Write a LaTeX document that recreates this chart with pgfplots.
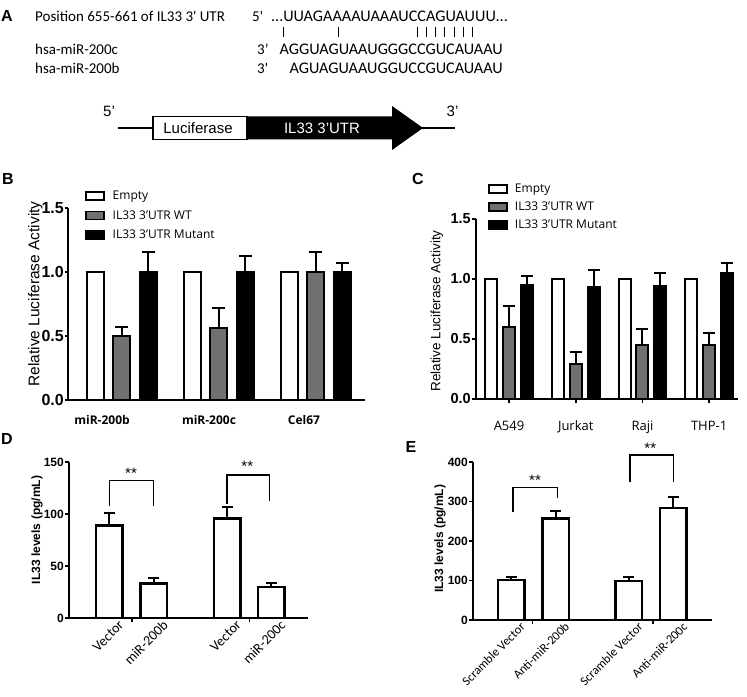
\documentclass[border=0pt]{standalone}
\usepackage{pgfplots}
\pgfplotsset{compat=1.18}
\usepackage{fontspec}
\setmainfont{Liberation Sans}
\newfontfamily\calib{Carlito}
\newfontfamily\osans{Open Sans}
\newcommand{\fsz}[1]{\fontsize{#1bp}{#1bp}\selectfont}
\definecolor{bargray}{gray}{0.44}

\pgfplotsset{
  prism/.style={
    scale only axis, axis lines*=left, axis line style={line width=2bp},
    tick align=outside, major tick length=3.5bp, tick style={line width=1.6bp,black},
    /pgf/number format/assume math mode=true,
    ybar, clip=false, anchor=south west,
  },
  eb/.style={error bars/.cd, y dir=plus, y explicit,
    error bar style={line width=2bp,black},
    error mark options={rotate=90,line width=2bp,black,mark size=#1}},
  boxleg/.style={legend image code/.code={\draw[fill=#1, draw=black, line width=1.6bp] (0bp,-3.5bp) rectangle (18bp,4.5bp);}},
}

\begin{document}
\begin{tikzpicture}[x=1bp,y=1bp]
\useasboundingbox (0,0) rectangle (747,697);

% ---------------- Panel A ----------------
\node[font=\bfseries\fsz{16}] at (7,681) {A};
\node[font=\calib\fsz{15}, anchor=base west, inner sep=0] at (35,675.3) {Position 655-661 of IL33 3' UTR};
\node[font=\calib\fsz{15}, anchor=base west, inner sep=0] at (252,675.3) {5'};
\node[font=\calib\fsz{16.2}, anchor=base east, inner sep=0] at (508,675.3) {...UUAGAAAAUAAAUCCAGUAUUU...};
\foreach \xx in {283,338,417,426,435,444,454,463,472}{\draw[line width=1bp] (\xx,670.3)--(\xx,659.7);}
\node[font=\calib\fsz{15}, anchor=base west, inner sep=0] at (35,642) {hsa-miR-200c};
\node[font=\calib\fsz{15}, anchor=base west, inner sep=0] at (257,642) {3’};
\node[font=\calib\fsz{16.2}, anchor=base east, inner sep=0] at (503,642) {AGGUAGUAAUGGGCCGUCAUAAU};
\node[font=\calib\fsz{15}, anchor=base west, inner sep=0] at (35,623.7) {hsa-miR-200b};
\node[font=\calib\fsz{15}, anchor=base west, inner sep=0] at (257,623.7) {3'};
\node[font=\calib\fsz{16.2}, anchor=base east, inner sep=0] at (503,623.7) {AGUAGUAAUGGUCCGUCAUAAU};
% construct diagram
\draw[line width=1.5bp] (118,569)--(455,569);
\fill[black] (247,557.5)--(392,557.5)--(392,547)--(423,569)--(392,591)--(392,580.5)--(247,580.5)--cycle;
\draw[fill=white, line width=1.2bp] (153,557.5) rectangle (247,580.5);
\node[font=\fsz{15}] at (198,569) {Luciferase};
\node[font=\fsz{15}, text=white] at (322,569) {IL33 3'UTR};
\node[font=\fsz{15}] at (109,586) {5'};
\node[font=\fsz{15}] at (452.5,586) {3'};

% ---------------- Panel B ----------------
\node[font=\bfseries\fsz{16}] at (8,518) {B};
\begin{axis}[prism, at={(68bp,297bp)},
  width=297bp, height=192bp,
  xmin=-0.557, xmax=2.508, ymin=0, ymax=1.5,
  ytick={0,0.5,1,1.5},
  yticklabel style={font=\bfseries\fsz{16}, inner sep=0.5bp, /pgf/number format/fixed, /pgf/number format/fixed zerofill, /pgf/number format/precision=1},
  xtick={-0.206,0.898,1.878}, xticklabels={miR-200b,miR-200c,Cel67},
  xtick style={draw=none},
  xticklabel style={font=\osans\bfseries\fsz{12}, yshift=-8bp},
  ylabel={Relative Luciferase Activity},
  ylabel style={at={(axis description cs:-0.11,0.552)}, anchor=center, font=\fsz{15.5}},
  legend style={at={(0.047,1.102)}, anchor=north west, draw=none, fill=none,
    font=\osans\fsz{12}, nodes={inner sep=0pt, text height=9bp, text depth=3bp},
    row sep=7.5bp, /tikz/every odd column/.append style={column sep=8bp}},
  legend cell align=left,
]
\addplot[fill=white, draw=black, line width=2bp, bar width=17bp, bar shift=-26.5bp, boxleg=white]
  coordinates {(0,1) (1,1) (2,1)};
\addplot[fill=bargray, draw=black, line width=2bp, bar width=17bp, bar shift=0bp, boxleg=bargray, eb=6.5bp]
  coordinates {(0,0.50) +- (0,0.072) (1,0.56) +- (0,0.16) (2,1.00) +- (0,0.156)};
\addplot[fill=black, draw=black, line width=2bp, bar width=17bp, bar shift=26.5bp, boxleg=black, eb=6.5bp]
  coordinates {(0,1.00) +- (0,0.156) (1,1.00) +- (0,0.122) (2,1.00) +- (0,0.074)};
\legend{Empty, IL33 3’UTR WT, IL33 3’UTR Mutant}
\end{axis}

% ---------------- Panel C ----------------
\node[font=\bfseries\fsz{16}] at (418,518) {C};
\begin{axis}[prism, at={(476bp,298bp)},
  width=262bp, height=180bp,
  xmin=-0.495, xmax=3.433, ymin=0, ymax=1.5,
  ytick={0,0.5,1,1.5},
  yticklabel style={font=\bfseries\fsz{14.5}, inner sep=0.5bp, /pgf/number format/fixed, /pgf/number format/fixed zerofill, /pgf/number format/precision=1},
  xtick={0,1,2,3}, xticklabels={A549,Jurkat,Raji,THP-1},
  major tick length=4.5bp,
  xticklabel style={font=\osans\fsz{13}, yshift=-14bp},
  ylabel={Relative Luciferase Activity},
  ylabel style={at={(axis description cs:-0.149,0.489)}, anchor=center, font=\fsz{13.5}},
  legend style={at={(0.035,1.21)}, anchor=north west, draw=none, fill=none,
    font=\osans\fsz{12}, nodes={inner sep=0pt, text height=9bp, text depth=3bp},
    row sep=6bp, /tikz/every odd column/.append style={column sep=7bp}},
  legend cell align=left,
]
\addplot[fill=white, draw=black, line width=2bp, bar width=12bp, bar shift=-17.8bp, boxleg=white]
  coordinates {(0,1) (1,1) (2,1) (3,1)};
\addplot[fill=bargray, draw=black, line width=2bp, bar width=12bp, bar shift=0bp, boxleg=bargray, eb=6bp]
  coordinates {(0,0.60) +- (0,0.175) (1,0.29) +- (0,0.10) (2,0.45) +- (0,0.13) (3,0.45) +- (0,0.10)};
\addplot[fill=black, draw=black, line width=2bp, bar width=12bp, bar shift=17.8bp, boxleg=black, eb=6bp]
  coordinates {(0,0.95) +- (0,0.075) (1,0.933) +- (0,0.142) (2,0.94) +- (0,0.11) (3,1.05) +- (0,0.08)};
\legend{Empty, IL33 3’UTR WT, IL33 3’UTR Mutant}
\end{axis}

% ---------------- Panel D ----------------
\node[font=\bfseries\fsz{16}] at (7,258) {D};
\begin{axis}[prism, at={(69bp,79bp)},
  width=239bp, height=156bp,
  xmin=0.08, xmax=5.51, ymin=0, ymax=150,
  ytick={0,50,100,150},
  major tick length=4bp,
  yticklabel style={font=\bfseries\fsz{12}, inner sep=1bp},
  xtick={1.505,4.18}, xticklabels={,},
  extra x ticks={1,2,3.67,4.67},
  extra x tick labels={Vector,miR-200b,Vector,miR-200c},
  extra x tick style={major tick length=0pt},
  xticklabel style={rotate=45, anchor=north east, font=\calib\fsz{14}, inner sep=1bp, xshift=6bp, yshift=-6bp},
  ylabel={IL33 levels (pg/mL)},
  ylabel style={at={(axis description cs:-0.134,0.564)}, anchor=center, font=\bfseries\fsz{12}},
]
\addplot[fill=white, draw=black, line width=2.5bp, bar width=26.5bp, bar shift=0bp, eb=5.5bp]
  coordinates {(1,89) +- (0,12) (2,33) +- (0,5) (3.67,95.5) +- (0,11.5) (4.67,30) +- (0,4)};
\draw[line width=1.5bp] (axis cs:1,107.7)--(axis cs:1,132)--(axis cs:2,132)--(axis cs:2,107.7);
\draw[line width=1.5bp] (axis cs:3.664,110)--(axis cs:3.664,137.5)--(axis cs:4.63,137.5)--(axis cs:4.63,112.5);
\node[font=\fsz{15}] at (axis cs:1.49,139) {**};
\node[font=\fsz{15}] at (axis cs:4.13,145.5) {**};
\end{axis}

% ---------------- Panel E ----------------
\node[font=\bfseries\fsz{16}] at (411,250) {E};
\begin{axis}[prism, at={(473bp,77bp)},
  width=239bp, height=158bp,
  xmin=0.146, xmax=5.517, ymin=0, ymax=400,
  ytick={0,100,200,300,400},
  major tick length=4bp,
  yticklabel style={font=\bfseries\fsz{12}, inner sep=1bp},
  xtick={1.487,4.184}, xticklabels={,},
  extra x ticks={1,2,3.65,4.65},
  extra x tick labels={Scramble Vector,Anti-miR-200b,Scramble Vector,Anti-miR-200c},
  extra x tick style={major tick length=0pt},
  xticklabel style={rotate=45, anchor=north east, font=\calib\fsz{12.5}, inner sep=1bp, xshift=6bp, yshift=-6bp},
  ylabel={IL33 levels (pg/mL)},
  ylabel style={at={(axis description cs:-0.138,0.513)}, anchor=center, font=\bfseries\fsz{12}},
]
\addplot[fill=white, draw=black, line width=2.5bp, bar width=26.5bp, bar shift=0bp, eb=5.5bp]
  coordinates {(1,101) +- (0,8.6) (2,257.5) +- (0,19) (3.65,98.7) +- (0,11) (4.65,284) +- (0,26.5)};
\draw[line width=1.5bp] (axis cs:1.05,272.6)--(axis cs:1.05,335)--(axis cs:2.04,335)--(axis cs:2.04,309.6);
\draw[line width=1.5bp] (axis cs:3.67,350)--(axis cs:3.67,417.7)--(axis cs:4.65,417.7)--(axis cs:4.65,350);
\node[font=\fsz{15}] at (axis cs:1.54,354) {**};
\node[font=\fsz{15}] at (axis cs:4.13,434.7) {**};
\end{axis}
\end{tikzpicture}
\end{document}
